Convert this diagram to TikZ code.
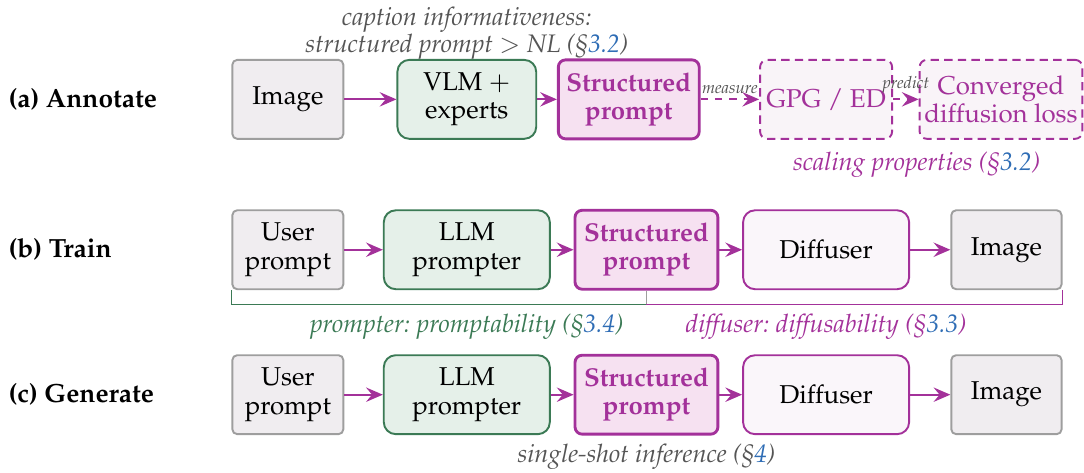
\documentclass[tikz,border=0pt]{standalone}
\usepackage[T1]{fontenc}
\usepackage{mathpazo}
\usetikzlibrary{arrows.meta}

\definecolor{spmag}{HTML}{A3319A}
\definecolor{spfill}{HTML}{F6E1F1}
\definecolor{diffill}{HTML}{FAF6FA}
\definecolor{dashfill}{HTML}{F9F4F8}
\definecolor{llmgreen}{HTML}{3B7A55}
\definecolor{llmfill}{HTML}{E5F0E9}
\definecolor{boxgray}{HTML}{9E9E9E}
\definecolor{imgfill}{HTML}{F0EDF0}
\definecolor{capgray}{HTML}{555555}
\definecolor{secblue}{HTML}{2F6DB5}

\newcommand{\sectag}[1]{(\S\textcolor{secblue}{#1})}

\begin{document}
\begin{tikzpicture}[every node/.style={font=\fontsize{10.8}{11.8}\selectfont},
  box/.style={draw, line width=0.8pt, align=center, minimum height=1.16cm, inner sep=2pt},
  imgbox/.style={box, draw=boxgray, fill=imgfill, rounded corners=2pt},
  llmbox/.style={box, draw=llmgreen, fill=llmfill, rounded corners=5pt},
  spbox/.style={box, draw=spmag, fill=spfill, line width=1.2pt, rounded corners=3pt,
    text=spmag, font=\fontsize{10.8}{11.8}\selectfont\bfseries},
  diffbox/.style={box, draw=spmag, fill=diffill, rounded corners=5pt},
  measbox/.style={box, draw=spmag, fill=dashfill, dash pattern=on 3.5pt off 2.2pt,
    rounded corners=3pt, text=spmag},
  rowlabel/.style={anchor=west, inner sep=0pt, font=\fontsize{11}{13}\selectfont\bfseries},
  captext/.style={text=capgray, font=\fontsize{10.6}{11.5}\selectfont\itshape, align=center},
  armlabel/.style={text=capgray, inner sep=1pt, font=\fontsize{7}{8}\selectfont\itshape},
  flow/.style={draw=spmag, line width=0.9pt, -{Stealth[length=7pt,width=6pt,inset=2.5pt]}}]
  \useasboundingbox (0,0) rectangle (15.93,-6.95);

  % (a) annotate
  \node[rowlabel] (labA) at (0.12,-1.46) {(a) Annotate};
  \node[imgbox, minimum width=1.63cm] (imA) at (4.23,-1.46) {Image};
  \node[llmbox, minimum width=2.04cm] (vlm) at (6.86,-1.46) {VLM $+$\\experts};
  \node[spbox, minimum width=2.07cm] (spA) at (9.24,-1.46) {Structured\\prompt};
  \node[measbox, minimum width=1.94cm] (gpg) at (12.14,-1.46) {GPG / ED};
  \node[measbox, minimum width=2.38cm] (loss) at (14.71,-1.46) {Converged\\diffusion loss};
  \draw[flow] (imA) -- (vlm);
  \draw[flow] (vlm) -- (spA);
  \draw[flow, dashed] (spA) -- node[armlabel, above=1pt] {measure} (gpg);
  \draw[flow, dashed] (gpg) -- node[armlabel, above=1pt] {predict} (loss);
  \node[captext] (capA) at (6.86,-0.49) {caption informativeness:\\structured prompt $>$ NL \sectag{3.2}};
  \node[captext, text=spmag] (scal) at (13.47,-2.42) {scaling properties \sectag{3.2}};

  % (b) train
  \node[rowlabel] (labB) at (0.12,-3.67) {(b) Train};
  \node[imgbox, minimum width=1.63cm] (upB) at (4.23,-3.67) {User\\prompt};
  \node[llmbox, minimum width=2.44cm] (llmB) at (6.86,-3.67) {LLM\\prompter};
  \node[spbox, minimum width=2.10cm] (spB) at (9.50,-3.67) {Structured\\prompt};
  \node[diffbox, minimum width=2.44cm] (difB) at (12.14,-3.67) {Diffuser};
  \node[imgbox, minimum width=1.62cm] (imB) at (14.79,-3.67) {Image};
  \draw[flow] (upB) -- (llmB);
  \draw[flow] (llmB) -- (spB);
  \draw[flow] (spB) -- (difB);
  \draw[flow] (difB) -- (imB);
  \coordinate (brk) at (0,-4.47);
  \draw[llmgreen, line width=0.5pt] (upB.south west) -- (upB.south west |- brk) -- (spB.south |- brk);
  \draw[boxgray, line width=0.5pt] (spB.south) -- (spB.south |- brk);
  \draw[spmag, line width=0.5pt] (spB.south |- brk) -- (imB.south east |- brk) -- (imB.south east);
  \node[captext, text=llmgreen] (prm) at (6.86,-4.81) {prompter:\ promptability \sectag{3.4}};
  \node[captext, text=spmag] (dfs) at (12.14,-4.81) {diffuser:\ diffusability \sectag{3.3}};

  % (c) generate
  \node[rowlabel] (labC) at (0.12,-5.80) {(c) Generate};
  \node[imgbox, minimum width=1.63cm] (upC) at (4.23,-5.80) {User\\prompt};
  \node[llmbox, minimum width=2.44cm] (llmC) at (6.86,-5.80) {LLM\\prompter};
  \node[spbox, minimum width=2.10cm] (spC) at (9.50,-5.80) {Structured\\prompt};
  \node[diffbox, minimum width=2.44cm] (difC) at (12.14,-5.80) {Diffuser};
  \node[imgbox, minimum width=1.62cm] (imC) at (14.79,-5.80) {Image};
  \draw[flow] (upC) -- (llmC);
  \draw[flow] (llmC) -- (spC);
  \draw[flow] (spC) -- (difC);
  \draw[flow] (difC) -- (imC);
  \node[captext] (shot) at (9.50,-6.72) {single-shot inference \sectag{4}};
\end{tikzpicture}
\end{document}
